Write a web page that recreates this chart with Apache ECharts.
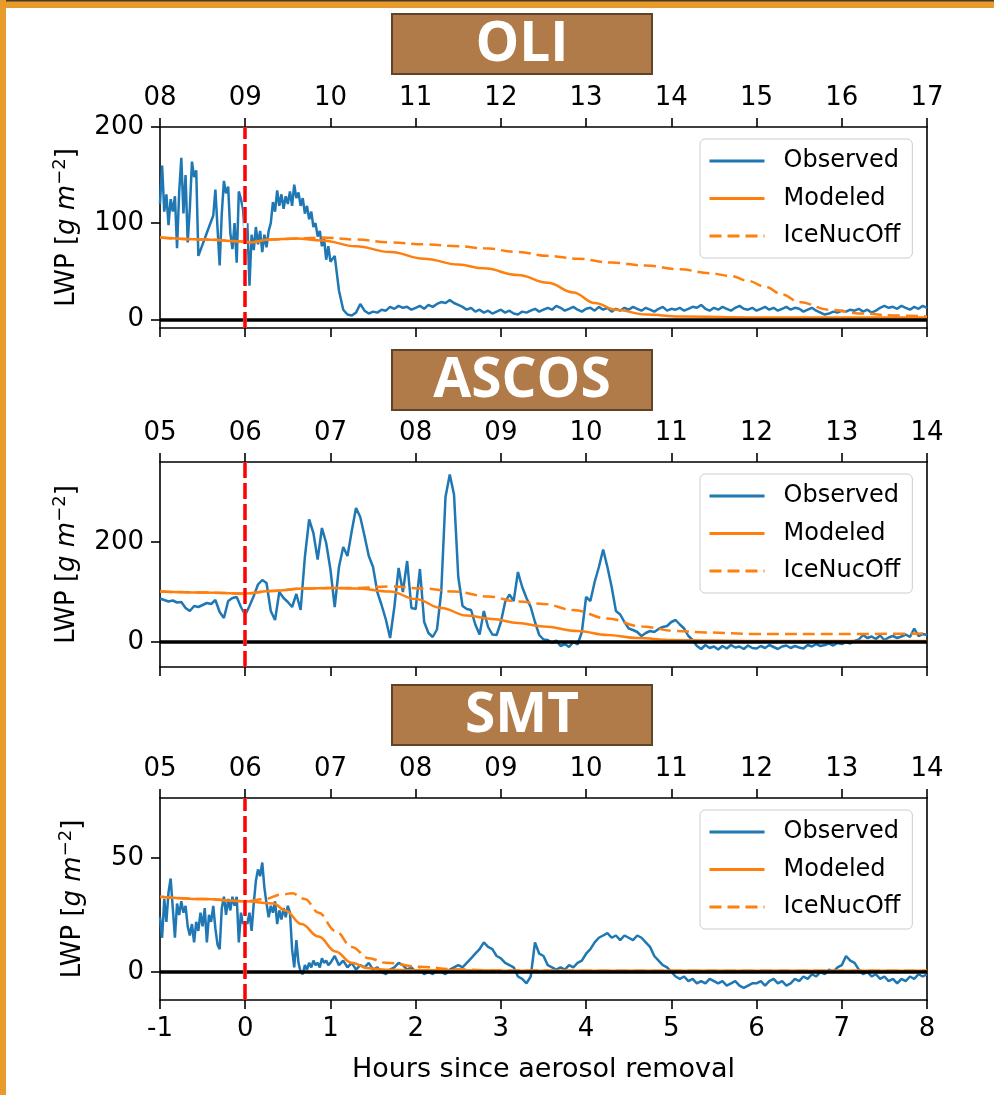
<!DOCTYPE html>
<html><head><meta charset="utf-8">
<script src="https://cdn.jsdelivr.net/npm/echarts@6/dist/echarts.min.js"></script>
<style>html,body{margin:0;padding:0;background:#fff}#c{width:994px;height:1095px}</style>
</head><body><div id="c"></div><script>
// ---------------- data ----------------
const panelTitles = ['OLI', 'ASCOS', 'SMT'];
const seriesNames = ['Observed', 'Modeled', 'IceNucOff'];
const xTitle = 'Hours since aerosol removal';
const hourMin = -1, hourMax = 8;
const oliClockLabels = ['08','09','10','11','12','13','14','15','16','17'];
const ascosClockLabels = ['05','06','07','08','09','10','11','12','13','14'];
const smtClockLabels = ['05','06','07','08','09','10','11','12','13','14'];
const oliYTicks = [0, 100, 200];
const ascosYTicks = [0, 200];
const smtYTicks = [0, 50];

// observed series, read every 0.025 h (early, noisy part) or every 0.05 h
const denseStep = 0.025, coarseStep = 0.05;
// OLI: -1.000 .. 0.975 h every 0.025 h (each row = half an hour)
const oliObsEarly = [
 120,160,112,130,98,125,112,128,74,132,168,110,150,80,115,164,148,155,66,72,
 78,84,90,96,102,108,135,95,56,110,144,131,138,90,73,100,59,133,125,114,
 80,100,35,88,72,96,78,92,70,88,75,92,100,122,112,134,118,130,115,128,
 120,133,118,140,126,132,118,126,110,118,104,112,96,100,86,92,76,84,62,76];
// OLI: 1.00 .. 8.00 h every 0.05 h (each row = one hour)
const oliObsLate = [
 60,66,30,10,5,4,7,16,9,6,8,7,10,9,13,11,14,12,13,10,
 12,14,11,15,13,16,18,17,20,17,15,13,10,12,8,10,7,9,6,8,
 10,7,9,6,5,8,7,9,11,8,10,12,10,14,12,9,11,13,10,8,
 11,12,9,13,10,12,8,11,9,12,10,13,11,9,12,10,8,11,13,9,
 11,10,12,9,11,13,12,15,11,9,12,10,13,11,9,12,14,11,10,12,
 9,11,13,10,12,9,11,13,10,12,11,8,10,12,9,7,5,6,8,7,
 9,8,10,9,11,8,10,7,9,12,14,12,13,11,14,12,10,13,11,14,
 12];
// ASCOS: -1.00 .. 8.00 h every 0.05 h (each row = one hour)
const ascosObserved = [
 87,84,81,83,79,80,68,62,72,70,74,78,76,84,60,48,82,88,90,70,
 54,72,92,115,124,118,62,44,100,88,80,70,96,64,170,245,218,165,228,198,
 145,70,150,190,172,222,268,250,212,172,150,100,74,45,8,70,148,100,162,68,
 66,146,40,18,10,25,100,290,335,295,130,72,66,64,35,15,62,30,15,14,
 40,80,95,82,140,110,88,70,40,14,5,4,-2,3,-8,-4,-10,0,-5,20,
 90,82,120,150,185,150,110,62,55,40,27,24,20,12,18,22,20,26,30,32,
 40,44,35,27,12,4,-8,-14,-6,-12,-9,-15,-8,-13,-6,-11,-9,-14,-7,-12,
 -13,-8,-12,-6,-10,-14,-9,-7,-12,-8,-11,-13,-6,-9,-4,-8,-6,-3,-7,-2,
 -4,0,-3,2,5,14,8,11,6,13,4,9,12,8,11,15,10,27,12,16,
 14];
// SMT: -1.000 .. 0.975 h every 0.025 h (each row = half an hour)
const smtObsEarly = [
 24,15,32,22,35,41,28,15,30,25,31,26,29,20,16,21,13,22,18,26,
 20,28,13,25,22,29,19,12,10,28,33,25,32,27,33,29,33,13,26,21,
 24,21,26,18,30,40,45,42,48,37,30,24,29,26,31,21,27,23,28,24,
 29,26,10,2,14,4,0,-1,3,1,4,2,5,3,4,2,6,4,5,3];
// SMT: 1.00 .. 8.00 h every 0.05 h (each row = one hour)
const smtObsLate = [
 4,7,3,5,2,4,1,3,2,4,1,2,0,-1,1,2,4,3,1,2,
 0,1,-1,0,-1,1,0,-1,1,2,3,2,4,6,8,10,13,11,10,7,
 6,4,3,2,-2,-3,-5,-2,13,8,7,3,2,1,2,1,3,2,4,5,
 8,10,13,15,16,17,15,16,14,16,15,14,16,15,13,11,7,5,3,2,
 0,-2,-3,-2,-4,-3,-5,-4,-5,-3,-4,-5,-4,-6,-5,-4,-6,-7,-6,-5,
 -5,-4,-6,-4,-3,-5,-4,-6,-5,-3,-4,-2,-3,-1,-2,0,-1,1,0,2,
 3,7,5,4,1,-1,0,-2,-1,-3,-2,-4,-3,-5,-3,-4,-2,-3,-1,-2,
 -1];

// modelled series (hours, values)
const oliModelHours = [-1,-0.5,0,0.05,0.3,0.6,0.9,1.3,1.7,2.1,2.5,2.8,3.2,3.55,3.85,4.1,4.35,4.7,5.1,6,7,8];
const oliModeled    = [85,83,81,80,83,84,82,76,70,63,57,53,46,38,28,17,10,5,3,2,2,2];
const oliIceHours   = [-1,-0.5,0,0.05,0.3,0.6,0.9,1.3,1.7,2.1,2.5,2.8,3.2,3.55,3.9,4.3,4.7,5.1,5.45,5.7,5.9,6.1,6.3,6.5,6.85,7.25,7.6,8];
const oliIceNucOff  = [85,83,81,80,83,84,85,83,80,78,76,74,70,66,63,59,56,52,48,45,40,34,26,18,10,6,4,3];

const ascosModelHours = [-1,-0.5,0,0.3,0.7,1.0,1.3,1.7,2.0,2.3,2.6,2.9,3.2,3.5,3.9,4.25,4.6,5.0,5.5,6,7,8];
const ascosModeled    = [101,99,97,102,107,108,107,101,86,68,53,46,38,31,22,14,8,4,3,2,2,2];
const ascosIceHours   = [-1,-0.5,0,0.3,0.7,1.0,1.3,1.7,2.1,2.45,2.85,3.2,3.5,3.85,4.25,4.65,5.05,5.4,6,7,8];
const ascosIceNucOff  = [101,99,97,102,107,108,108,111,107,101,91,81,76,64,47,31,22,19,16,16,17];

const smtModelHours = [-1,-0.5,0,0.33,0.47,0.66,0.86,1.06,1.25,1.45,1.65,2,3,5,8];
const smtModeled    = [33,32,31,30,27,21,15.5,9,4,1.6,1,0.8,0.6,0.5,0.5];
const smtIceHours   = [-1,-0.5,0,0.23,0.43,0.55,0.7,0.86,1.06,1.25,1.45,1.65,2.05,2.45,3,5,8];
const smtIceNucOff  = [33,32,31,32,34,34.5,32,26,18,11,6,4,2.3,1.2,0.6,0.5,0.5];

// ---------------- chart ----------------
const FONT = 'DejaVu Sans';
const BLUE = '#1f77b4', ORANGE = '#ff7f0e';
const panels = [
  {title: panelTitles[0], clock: oliClockLabels,
   obs: [{start: -1, step: denseStep, values: oliObsEarly}, {start: 1, step: coarseStep, values: oliObsLate}],
   mh: oliModelHours, m: oliModeled, ih: oliIceHours, ic: oliIceNucOff,
   yMin: -9, yMax: 200, yTicks: oliYTicks, top: 127, height: 201, boxTop: 14},
  {title: panelTitles[1], clock: ascosClockLabels,
   obs: [{start: -1, step: coarseStep, values: ascosObserved}],
   mh: ascosModelHours, m: ascosModeled, ih: ascosIceHours, ic: ascosIceNucOff,
   yMin: -50, yMax: 360, yTicks: ascosYTicks, top: 462, height: 205, boxTop: 350},
  {title: panelTitles[2], clock: smtClockLabels,
   obs: [{start: -1, step: denseStep, values: smtObsEarly}, {start: 1, step: coarseStep, values: smtObsLate}],
   mh: smtModelHours, m: smtModeled, ih: smtIceHours, ic: smtIceNucOff,
   yMin: -12.3, yMax: 76.3, yTicks: smtYTicks, top: 798, height: 202, boxTop: 685}
];
const pair = (xs, ys) => xs.map((x, i) => [x, ys[i]]);
const obsPoints = segs => segs.flatMap(s => s.values.map((v, i) => [+(s.start + i * s.step).toFixed(3), v]));
const axLine = {onZero: false, lineStyle: {color: '#000', width: 1.6}};
const axTick = {length: 9, lineStyle: {color: '#000', width: 1.6}};
const lbl = {fontFamily: FONT, fontSize: 26, color: '#000'};

const option = {animation: false, grid: [], xAxis: [], yAxis: [], series: [], legend: [], graphic: []};

panels.forEach((p, k) => {
  option.grid.push({left: 160, right: 67, top: p.top, height: p.height});
  option.xAxis.push({
    type: 'value', gridIndex: k, position: 'bottom', min: hourMin, max: hourMax, interval: 1,
    splitLine: {show: false}, axisLine: axLine, axisTick: axTick,
    axisLabel: Object.assign({show: k === 2, margin: 16}, lbl),
    name: k === 2 ? xTitle : '', nameLocation: 'middle', nameGap: 56,
    nameTextStyle: {fontFamily: FONT, fontSize: 27, color: '#000'}
  });
  option.xAxis.push({
    type: 'value', gridIndex: k, position: 'top', min: hourMin, max: hourMax, interval: 1,
    splitLine: {show: false}, axisLine: axLine, axisTick: axTick,
    axisLabel: Object.assign({margin: 16, formatter: v => p.clock[Math.round(v - hourMin)]}, lbl)
  });
  option.yAxis.push({
    type: 'value', gridIndex: k, position: 'left', min: p.yMin, max: p.yMax,
    splitLine: {show: false}, axisLine: axLine,
    axisTick: Object.assign({customValues: p.yTicks}, axTick),
    axisLabel: Object.assign({customValues: p.yTicks, margin: 16}, lbl),
    name: 'LWP [{i|g m}{s|−2}]', nameLocation: 'middle', nameGap: 71, nameRotate: 90,
    nameTextStyle: {fontFamily: FONT, fontSize: 26, color: '#000', lineHeight: 32,
      rich: {i: {fontFamily: FONT, fontStyle: 'italic', fontSize: 26, lineHeight: 32},
             s: {fontFamily: FONT, fontSize: 18, verticalAlign: 'top', lineHeight: 20}}}
  });
  option.yAxis.push({
    type: 'value', gridIndex: k, position: 'right', min: p.yMin, max: p.yMax,
    splitLine: {show: false}, axisLine: axLine, axisTick: {show: false}, axisLabel: {show: false}
  });
  const xi = 2 * k, yi = 2 * k;
  option.series.push({
    name: seriesNames[0], type: 'line', xAxisIndex: xi, yAxisIndex: yi, z: 2,
    data: obsPoints(p.obs),
    symbol: 'none', lineStyle: {color: BLUE, width: 2.5}, itemStyle: {color: BLUE}
  });
  option.series.push({
    name: seriesNames[1], type: 'line', xAxisIndex: xi, yAxisIndex: yi, z: 3,
    data: pair(p.mh, p.m), smooth: 0.4, smoothMonotone: 'x',
    symbol: 'none', lineStyle: {color: ORANGE, width: 2.5}, itemStyle: {color: ORANGE}
  });
  option.series.push({
    name: seriesNames[2], type: 'line', xAxisIndex: xi, yAxisIndex: yi, z: 3,
    data: pair(p.ih, p.ic), smooth: 0.4, smoothMonotone: 'x',
    symbol: 'none', lineStyle: {color: ORANGE, width: 2.5, type: [12, 6]}, itemStyle: {color: ORANGE}
  });
  option.series.push({
    type: 'line', xAxisIndex: xi, yAxisIndex: yi, z: 5, data: [], silent: true,
    markLine: {
      silent: true, symbol: ['none', 'none'], label: {show: false}, animation: false,
      data: [
        {yAxis: 0, lineStyle: {color: '#000', width: 3.5, type: 'solid'}},
        {xAxis: 0, lineStyle: {color: '#fff', width: 3.5, type: 'solid'}},
        {xAxis: 0, lineStyle: {color: '#ff0000', width: 3.5, type: [16, 5]}}
      ]
    }
  });
  option.legend.push({
    orient: 'vertical', left: 700, top: p.top + 12, itemWidth: 55, itemHeight: 14, itemGap: 9.5,
    padding: [8, 12, 8, 8], backgroundColor: 'rgba(255,255,255,0.85)', borderColor: '#cccccc',
    borderWidth: 1, borderRadius: 5, selectedMode: false, data: seriesNames,
    itemStyle: {opacity: 0}, lineStyle: {width: 3},
    textStyle: {fontFamily: FONT, fontSize: 24, color: '#000', lineHeight: 28, padding: [0, 0, 0, 14]}
  });
  option.graphic.push({
    type: 'rect', shape: {x: 392, y: p.boxTop, width: 260, height: 60},
    style: {fill: '#b07b48', stroke: '#5e4428', lineWidth: 2}, z: 100
  });
  option.graphic.push({
    type: 'text', x: 522, y: p.boxTop + 31, z: 101,
    style: {text: p.title, fill: '#fff', fontFamily: 'Open Sans', fontWeight: 'bold', fontSize: 55,
      align: 'center', verticalAlign: 'middle'}
  });
});
option.graphic.push({type: 'rect', shape: {x: 0, y: 0, width: 994, height: 8}, style: {fill: '#e79b2a'}, z: 100});
option.graphic.push({type: 'rect', shape: {x: 0, y: 0, width: 994, height: 1.5}, style: {fill: '#4a3a2a'}, z: 100});
option.graphic.push({type: 'rect', shape: {x: 0, y: 0, width: 6, height: 1095}, style: {fill: '#e79b2a'}, z: 100});

const chart = echarts.init(document.getElementById('c'), null, {renderer: 'canvas'});
chart.setOption(option);
</script></body></html>
